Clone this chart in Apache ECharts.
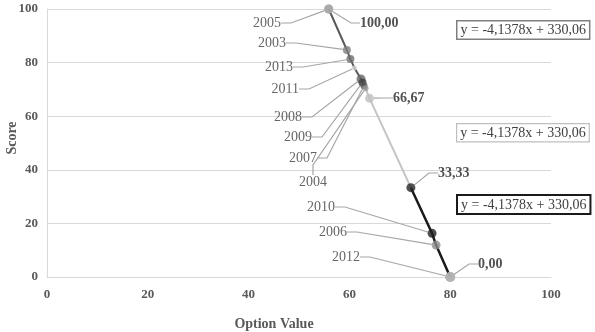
<!DOCTYPE html>
<html>
<head>
<meta charset="utf-8">
<script src="https://cdn.jsdelivr.net/npm/echarts@6/dist/echarts.min.js"></script>
<style>
html, body { margin: 0; padding: 0; background: #fff; }
#chart { width: 595px; height: 332px; }
</style>
</head>
<body>
<div id="chart"></div>
<script>
// year points (option value, score)
var years = ['2005', '2003', '2013', '2011', '2008', '2009', '2007', '2004', '2010', '2006', '2012'];
var yearOption = [55.9, 59.5, 60.2, 61.0, 62.3, 62.6, 62.9, 63.2, 76.4, 77.2, 80.0];
var yearScore = [100, 84.7, 81.3, 78.0, 73.9, 72.6, 71.4, 70.4, 16.3, 11.9, 0];

// break points with value labels
var markOption = [55.9, 64.0, 72.2, 80.0];
var markScore = [100, 66.67, 33.33, 0];

// trend lines
var trendSlope = [-4.1378, -4.1378, -4.1378];
var trendIntercept = [330.06, 330.06, 330.06];

var xTicks = [0, 20, 40, 60, 80, 100];
var yTicks = [0, 20, 40, 60, 80, 100];

// styles / layout
var pointColor = ['#a6a6a6', '#808080', '#6f6f6f', '#d0d0d0', '#666666', '#404040', '#555555', '#9a9a9a', '#222222', '#8c8c8c', '#b0b0b0'];
var pointSize = [9, 8, 8, 5, 9, 8, 7, 6, 9, 9, 10];
var markColor = ['#a6a6a6', '#bfbfbf', '#262626', '#b0b0b0'];
var markSize = [9, 9, 9, 10];
// label anchors in pixels: year labels right-aligned, value labels left-aligned
var yearLabelPos = [[286, 23], [291, 43], [298, 67], [304, 89], [307, 117], [317, 137], [322, 158], [332, 182], [340, 207], [352, 232], [365, 257]];
var markLabelPos = [[356, 23], [389, 98], [434, 173], [474, 264]];
var boxTop = [20, 123, 194];
var boxStyle = [['#7f7f7f', 1.5], ['#bfbfbf', 1.2], ['#1a1a1a', 2]];

var serif = '"Liberation Serif", "DejaVu Serif", serif';

function pts(xs, ys, idx) {
	var out = [];
	for (var i = 0; i < idx.length; i++) {
		out.push([xs[idx[i]], ys[idx[i]]]);
	}
	return out;
}

var seg1 = pts(yearOption, yearScore, [0, 1, 2, 3, 4, 5, 6, 7]);
var seg2 = [[yearOption[7], yearScore[7]], [markOption[1], markScore[1]], [markOption[2], markScore[2]]];
var seg3 = [[markOption[2], markScore[2]]].concat(pts(yearOption, yearScore, [8, 9, 10]));

var yearData = [];
for (var i = 0; i < years.length; i++) {
	yearData.push({
		name: years[i],
		value: [yearOption[i], yearScore[i]],
		symbolSize: pointSize[i],
		itemStyle: {color: pointColor[i]}
	});
}
var markData = [];
for (var j = 0; j < markScore.length; j++) {
	markData.push({
		name: markScore[j].toFixed(2).replace('.', ','),
		value: [markOption[j], markScore[j]],
		symbolSize: markSize[j],
		itemStyle: {color: markColor[j]}
	});
}

function fmtEq(k, b) {
	return 'y = ' + String(k).replace('.', ',') + 'x + ' + b.toFixed(2).replace('.', ',');
}

var graphics = [];
for (var g = 0; g < trendSlope.length; g++) {
	graphics.push({
		type: 'text',
		left: 456,
		top: boxTop[g],
		z: 100,
		style: {
			text: fmtEq(trendSlope[g], trendIntercept[g]),
			font: '14px ' + serif,
			fill: '#404040',
			backgroundColor: '#fff',
			borderColor: boxStyle[g][0],
			borderWidth: boxStyle[g][1],
			padding: [2, 3, 1, 3]
		}
	});
}

var myChart = echarts.init(document.getElementById('chart'));
var option = {
	animation: false,
	grid: {left: 47, right: 44, top: 9, bottom: 55, outerBoundsMode: 'none', containLabel: false},
	xAxis: {
		type: 'value',
		min: xTicks[0],
		max: xTicks[xTicks.length - 1],
		interval: xTicks[1] - xTicks[0],
		name: 'Option Value',
		nameLocation: 'middle',
		nameGap: 40,
		nameTextStyle: {fontFamily: serif, fontSize: 14, fontWeight: 'bold', color: '#595959', padding: [0, 50, 0, 0]},
		axisLine: {show: true, lineStyle: {color: '#d9d9d9', width: 1}},
		axisTick: {show: false},
		splitLine: {show: false},
		axisLabel: {fontFamily: serif, fontSize: 13, fontWeight: 'bold', color: '#595959', margin: 11}
	},
	yAxis: {
		type: 'value',
		min: yTicks[0],
		max: yTicks[yTicks.length - 1],
		interval: yTicks[1] - yTicks[0],
		name: 'Score',
		nameLocation: 'middle',
		nameGap: 28,
		nameMoveOverlap: false,
		nameTextStyle: {fontFamily: serif, fontSize: 14, fontWeight: 'bold', color: '#595959', padding: [0, 0, 0, 10]},
		axisLine: {show: true, lineStyle: {color: '#d9d9d9', width: 1}},
		axisTick: {show: false},
		splitLine: {show: true, lineStyle: {color: '#d9d9d9', width: 1}},
		axisLabel: {fontFamily: serif, fontSize: 13, fontWeight: 'bold', color: '#595959', margin: 9}
	},
	graphic: graphics,
	series: [
		{type: 'line', data: seg1, symbol: 'none', lineStyle: {color: '#595959', width: 2}, z: 2},
		{type: 'line', data: seg2, symbol: 'none', lineStyle: {color: '#c4c4c4', width: 2}, z: 2},
		{type: 'line', data: seg3, symbol: 'none', lineStyle: {color: '#1a1a1a', width: 2.5}, z: 2},
		{
			type: 'scatter',
			data: yearData,
			z: 4,
			label: {
				show: true,
				formatter: '{b}',
				fontFamily: serif,
				fontSize: 14,
				color: '#404040',
				padding: [0, 5, 0, 0]
			},
			labelLine: {show: true, length2: 10, lineStyle: {color: '#a6a6a6', width: 1.2}},
			labelLayout: function (params) {
				var p = yearLabelPos[params.dataIndex];
				return {x: p[0], y: p[1], align: 'right', verticalAlign: 'middle'};
			}
		},
		{
			type: 'scatter',
			data: markData,
			z: 3,
			label: {
				show: true,
				formatter: '{b}',
				fontFamily: serif,
				fontSize: 14,
				fontWeight: 'bold',
				color: '#262626',
				padding: [0, 0, 0, 4]
			},
			labelLine: {show: true, length2: 9, lineStyle: {color: '#a6a6a6', width: 1.2}},
			labelLayout: function (params) {
				var p = markLabelPos[params.dataIndex];
				return {x: p[0], y: p[1], align: 'left', verticalAlign: 'middle'};
			}
		}
	]
};
myChart.setOption(option);
</script>
</body>
</html>
